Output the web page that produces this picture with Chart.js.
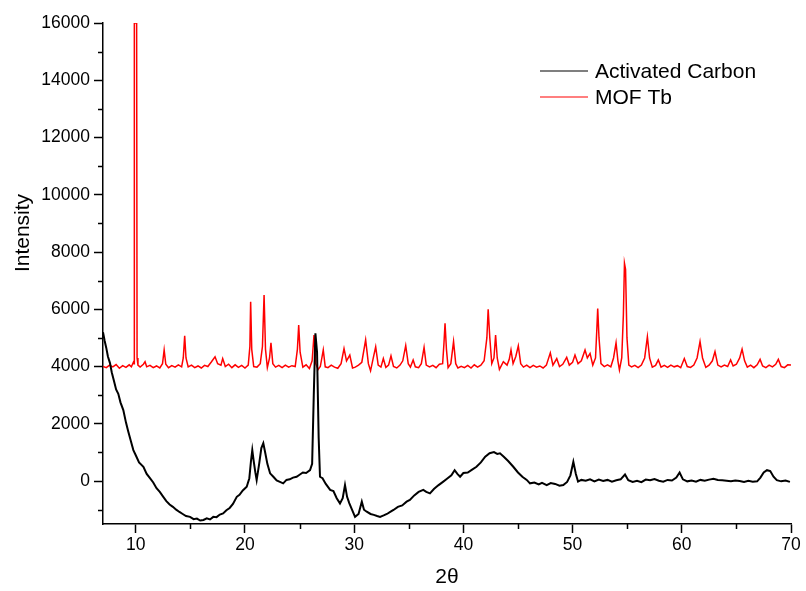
<!DOCTYPE html>
<html>
<head>
<meta charset="utf-8">
<script src="https://cdn.jsdelivr.net/npm/chart.js@4.4.1/dist/chart.umd.min.js"></script>
<style>
  html, body { margin: 0; padding: 0; background: #fff; }
  #wrap { width: 806px; height: 591px; }
</style>
</head>
<body>
<div id="wrap"><canvas id="xrd-chart" width="806" height="591"></canvas></div>
<script>
// 2-theta positions and intensities
const carbonX = [7.0, 7.15, 7.3, 7.45, 7.64, 7.8, 8.0, 8.2, 8.4, 8.6, 8.86, 9.1, 9.3, 9.55, 9.78, 10.0, 10.3, 10.7, 11.0, 11.3, 11.6, 11.9, 12.2, 12.52, 12.8, 13.1, 13.4, 13.7, 14.0, 14.3, 14.6, 14.97, 15.3, 15.6, 15.9, 16.2, 16.5, 16.8, 17.1, 17.4, 17.7, 18.0, 18.3, 18.6, 18.9, 19.25, 19.5, 19.8, 20.16, 20.4, 20.55, 20.67, 20.8, 20.95, 21.07, 21.3, 21.5, 21.68, 21.85, 22.05, 22.3, 22.6, 22.9, 23.2, 23.5, 23.8, 24.1, 24.4, 24.73, 25.0, 25.3, 25.6, 25.96, 26.15, 26.3, 26.45, 26.6, 26.75, 26.87, 27.1, 27.4, 27.8, 28.1, 28.4, 28.7, 28.95, 29.16, 29.35, 29.55, 29.8, 30.08, 30.4, 30.7, 30.9, 31.15, 31.5, 31.8, 32.1, 32.37, 32.7, 33.0, 33.3, 33.6, 34.0, 34.4, 34.8, 35.1, 35.5, 35.9, 36.33, 36.6, 36.94, 37.3, 37.7, 38.16, 38.5, 38.9, 39.2, 39.45, 39.7, 40.0, 40.4, 40.8, 41.2, 41.6, 42.0, 42.4, 42.8, 43.1, 43.35, 43.7, 44.1, 44.57, 45.0, 45.4, 45.8, 46.1, 46.5, 46.9, 47.2, 47.63, 48.0, 48.4, 48.8, 49.15, 49.5, 49.8, 50.07, 50.3, 50.5, 50.8, 51.2, 51.6, 52.0, 52.4, 52.8, 53.2, 53.6, 54.0, 54.4, 54.8, 55.1, 55.5, 55.9, 56.3, 56.7, 57.1, 57.5, 57.9, 58.3, 58.7, 59.1, 59.5, 59.8, 60.1, 60.5, 60.9, 61.3, 61.7, 62.1, 62.5, 62.9, 63.3, 63.7, 64.1, 64.5, 64.9, 65.3, 65.7, 66.1, 66.5, 66.9, 67.2, 67.5, 67.8, 68.1, 68.4, 68.7, 69.1, 69.5, 69.9];
const carbonY = [5200, 4900, 4650, 4350, 4120, 3800, 3500, 3200, 3050, 2750, 2480, 2050, 1750, 1400, 1080, 900, 650, 500, 250, 100, -50, -250, -380, -550, -700, -820, -900, -1000, -1080, -1150, -1220, -1250, -1330, -1310, -1380, -1360, -1300, -1340, -1250, -1260, -1170, -1130, -1020, -940, -800, -550, -480, -330, -200, 100, 700, 1080, 700, 300, 35, 600, 1150, 1320, 1000, 600, 270, 150, 20, -30, -80, 40, 60, 120, 150, 220, 300, 280, 380, 600, 3000, 5160, 4500, 1500, 150, 100, -100, -310, -350, -600, -780, -600, -140, -550, -770, -1000, -1250, -1150, -720, -1000, -1070, -1150, -1180, -1220, -1250, -1200, -1150, -1080, -1010, -900, -850, -720, -660, -500, -380, -310, -380, -430, -280, -150, -20, 80, 200, 380, 250, 150, 280, 300, 400, 500, 650, 850, 970, 1010, 950, 970, 850, 700, 500, 300, 150, 40, -80, -50, -120, -60, -140, -70, -100, -160, -140, -30, 200, 670, 250, -20, 40, 10, 60, -10, 50, 0, 40, -20, 30, 60, 230, 30, -30, 10, -40, 50, 30, 70, 10, -20, 40, 20, 120, 300, 60, -10, 20, -20, 40, 10, 50, 80, 40, 30, 10, -10, 20, 0, -30, 10, -20, -10, 120, 300, 380, 350, 150, 30, -10, 20, -30];

const mofX = [7.0, 7.3, 7.6, 7.9, 8.2, 8.5, 8.8, 9.1, 9.4, 9.6, 9.78, 9.84, 9.87, 10.08, 10.12, 10.2, 10.4, 10.7, 10.85, 11.0, 11.3, 11.6, 11.9, 12.2, 12.45, 12.6, 12.75, 13.0, 13.3, 13.6, 13.9, 14.2, 14.35, 14.48, 14.6, 14.8, 15.1, 15.4, 15.7, 16.0, 16.3, 16.6, 16.9, 17.26, 17.5, 17.8, 17.96, 18.2, 18.5, 18.8, 19.1, 19.4, 19.7, 20.0, 20.3, 20.45, 20.52, 20.62, 20.8, 21.1, 21.4, 21.6, 21.75, 21.88, 22.05, 22.25, 22.38, 22.55, 22.8, 23.1, 23.4, 23.7, 24.0, 24.3, 24.6, 24.8, 24.92, 25.05, 25.3, 25.6, 25.9, 26.15, 26.32, 26.48, 26.7, 26.9, 27.17, 27.35, 27.6, 27.9, 28.2, 28.5, 28.8, 29.07, 29.3, 29.6, 29.85, 30.1, 30.4, 30.7, 31.05, 31.3, 31.5, 31.75, 31.97, 32.2, 32.45, 32.67, 32.9, 33.15, 33.37, 33.6, 33.9, 34.2, 34.45, 34.72, 34.95, 35.15, 35.4, 35.6, 35.9, 36.15, 36.4, 36.6, 36.9, 37.2, 37.5, 37.8, 38.1, 38.22, 38.32, 38.45, 38.6, 38.85, 39.1, 39.3, 39.5, 39.8, 40.1, 40.4, 40.7, 41.0, 41.3, 41.6, 41.9, 42.15, 42.27, 42.42, 42.6, 42.8, 42.95, 43.1, 43.3, 43.66, 44.0, 44.2, 44.36, 44.55, 44.8, 45.03, 45.25, 45.5, 45.8, 46.1, 46.4, 46.7, 47.0, 47.3, 47.6, 47.96, 48.2, 48.55, 48.8, 49.1, 49.46, 49.7, 50.0, 50.22, 50.5, 50.8, 51.14, 51.35, 51.6, 51.85, 52.1, 52.22, 52.3, 52.42, 52.6, 52.9, 53.2, 53.5, 53.75, 53.98, 54.15, 54.29, 54.5, 54.65, 54.75, 54.85, 54.98, 55.15, 55.4, 55.7, 56.0, 56.3, 56.6, 56.85, 57.05, 57.3, 57.6, 57.85, 58.1, 58.4, 58.7, 59.0, 59.3, 59.6, 59.9, 60.23, 60.5, 60.8, 61.1, 61.4, 61.67, 61.9, 62.2, 62.5, 62.8, 63.04, 63.3, 63.6, 63.9, 64.2, 64.47, 64.7, 65.0, 65.3, 65.52, 65.75, 66.0, 66.3, 66.6, 66.9, 67.17, 67.4, 67.7, 68.0, 68.3, 68.6, 68.84, 69.1, 69.4, 69.7, 70.0];
const mofY = [4000, 3960, 4050, 3990, 4070, 3940, 4030, 3970, 4060, 3990, 4150, 4100, 16000, 16000, 4300, 4050, 3980, 4080, 4170, 3990, 4040, 3960, 4020, 3950, 4100, 4580, 4080, 3960, 4030, 3980, 4060, 3990, 4300, 5070, 4300, 3990, 4050, 3960, 4020, 3950, 4040, 4000, 4150, 4340, 4100, 4050, 4280, 4000, 4080, 3960, 4060, 3970, 4040, 3950, 4050, 4700, 6260, 4600, 4000, 3980, 4100, 4700, 6500, 4600, 3960, 4300, 4830, 4100, 3980, 4040, 3960, 4050, 3980, 4030, 4000, 4600, 5450, 4500, 3980, 4060, 3930, 4200, 5100, 4100, 3900, 4000, 4580, 3990, 3960, 4050, 3980, 3940, 4100, 4630, 4200, 4400, 3950, 3980, 4050, 4150, 4930, 4100, 3850, 4300, 4690, 4050, 3980, 4280, 3970, 4050, 4370, 4000, 3950, 4050, 4200, 4730, 4100, 3980, 4230, 3990, 3960, 4100, 4670, 4050, 3990, 4040, 3960, 4080, 4100, 4800, 5510, 4600, 3960, 4100, 4870, 4100, 3950, 4010, 3960, 4040, 3950, 4060, 3980, 4050, 4200, 5000, 6000, 5000, 4100, 4300, 5100, 4300, 3900, 4170, 4050, 4250, 4580, 4100, 4350, 4720, 4100, 3980, 4050, 3960, 4040, 3980, 4020, 3950, 4050, 4480, 4050, 4280, 4000, 4080, 4320, 4050, 4150, 4400, 4100, 4200, 4580, 4300, 4460, 4050, 4300, 5300, 6030, 5000, 4100, 4000, 4060, 3990, 4300, 4830, 4200, 3880, 4300, 5800, 7610, 7400, 5000, 4050, 3990, 4040, 3960, 4050, 4300, 5040, 4300, 3980, 4040, 4230, 3980, 4040, 3970, 4050, 3990, 4030, 3960, 4280, 4000, 3970, 4050, 4300, 4870, 4300, 3970, 4050, 4200, 4520, 4050, 3990, 4050, 4000, 4230, 4020, 4080, 4300, 4610, 4200, 3980, 4050, 3960, 4060, 4250, 4020, 3960, 4050, 3990, 4080, 4250, 4000, 3960, 4060, 4050];

const seriesNames = ['Activated Carbon', 'MOF Tb'];
const seriesColors = ['#000000', '#ff0000'];

// axis ticks (labelled ones and the short minor ones)
const xTicks = [10, 20, 30, 40, 50, 60, 70];
const xMinorTicks = [15, 25, 35, 45, 55, 65];
const yTicks = [0, 2000, 4000, 6000, 8000, 10000, 12000, 14000, 16000];
const yMinorTicks = [-1000, 1000, 3000, 5000, 7000, 9000, 11000, 13000, 15000];

function toPoints(xs, ys) {
    return xs.map(function(x, i) { return { x: x, y: ys[i] }; });
}

const FONT = "'Liberation Sans', Arial, sans-serif";

// short minor ticks, plus the legend and y title drawn by hand
const extrasPlugin = {
    id: 'extras',
    afterDraw: function(chart) {
        const ctx = chart.ctx;
        const xs = chart.scales.x;
        const ys = chart.scales.y;
        const area = chart.chartArea;
        ctx.save();
        ctx.strokeStyle = '#000';
        ctx.lineWidth = 1.5;
        ctx.beginPath();
        yMinorTicks.forEach(function(v) {
            const py = Math.round(ys.getPixelForValue(v)) + 0.5;
            ctx.moveTo(area.left - 5, py);
            ctx.lineTo(area.left, py);
        });
        xMinorTicks.forEach(function(v) {
            const px = Math.round(xs.getPixelForValue(v)) + 0.5;
            ctx.moveTo(px, area.bottom);
            ctx.lineTo(px, area.bottom + 5);
        });
        ctx.stroke();

        // legend
        ctx.font = '21px ' + FONT;
        ctx.textBaseline = 'alphabetic';
        ctx.textAlign = 'left';
        chart.data.datasets.forEach(function(ds, i) {
            const ly = 71 + i * 26;
            ctx.strokeStyle = ds.borderColor;
            ctx.lineWidth = 1.2;
            ctx.beginPath();
            ctx.moveTo(540, ly);
            ctx.lineTo(588, ly);
            ctx.stroke();
            ctx.fillStyle = '#000';
            ctx.fillText(ds.label, 595, ly + 7);
        });

        // y axis title
        ctx.translate(28.5, 233);
        ctx.rotate(-Math.PI / 2);
        ctx.textAlign = 'center';
        ctx.fillText('Intensity', 0, 0);
        ctx.restore();
    }
};

const ctx = document.getElementById('xrd-chart').getContext('2d');
new Chart(ctx, {
    type: 'line',
    data: {
        datasets: [{
            label: seriesNames[0],
            data: toPoints(carbonX, carbonY),
            borderColor: seriesColors[0],
            borderWidth: 2
        }, {
            label: seriesNames[1],
            data: toPoints(mofX, mofY),
            borderColor: seriesColors[1],
            borderWidth: 1.5
        }]
    },
    options: {
        responsive: false,
        animation: false,
        layout: { padding: { top: 23, right: 15, bottom: 0, left: 0 } },
        elements: { point: { radius: 0 }, line: { tension: 0 } },
        plugins: {
            legend: { display: false },
            tooltip: { enabled: false }
        },
        scales: {
            x: {
                type: 'linear',
                min: 7,
                max: 70,
                afterBuildTicks: function(scale) {
                    scale.ticks = xTicks.map(function(v) { return { value: v }; });
                },
                afterFit: function(scale) { scale.height = 67; },
                ticks: {
                    color: '#000',
                    font: { family: FONT, size: 17.5 },
                    padding: 2,
                    maxRotation: 0,
                    autoSkip: false,
                    callback: function(v) { return String(v); }
                },
                grid: {
                    drawOnChartArea: false,
                    drawTicks: true,
                    tickLength: 9,
                    tickWidth: 1.5,
                    tickColor: '#000'
                },
                border: { display: true, color: '#000', width: 1.5 },
                title: {
                    display: true,
                    text: '2θ',
                    color: '#000',
                    font: { family: FONT, size: 21 },
                    padding: { top: 0, bottom: 1 }
                }
            },
            y: {
                type: 'linear',
                min: -1500,
                max: 16000,
                afterBuildTicks: function(scale) {
                    scale.ticks = yTicks.map(function(v) { return { value: v }; });
                },
                afterFit: function(scale) { scale.width = 103; },
                ticks: {
                    color: '#000',
                    font: { family: FONT, size: 17.5 },
                    padding: 4,
                    autoSkip: false,
                    callback: function(v) { return String(v); }
                },
                grid: {
                    drawOnChartArea: false,
                    drawTicks: true,
                    tickLength: 9,
                    tickWidth: 1.5,
                    tickColor: '#000'
                },
                border: { display: true, color: '#000', width: 1.5 },
                title: { display: false }
            }
        }
    },
    plugins: [extrasPlugin]
});
</script>
</body>
</html>
